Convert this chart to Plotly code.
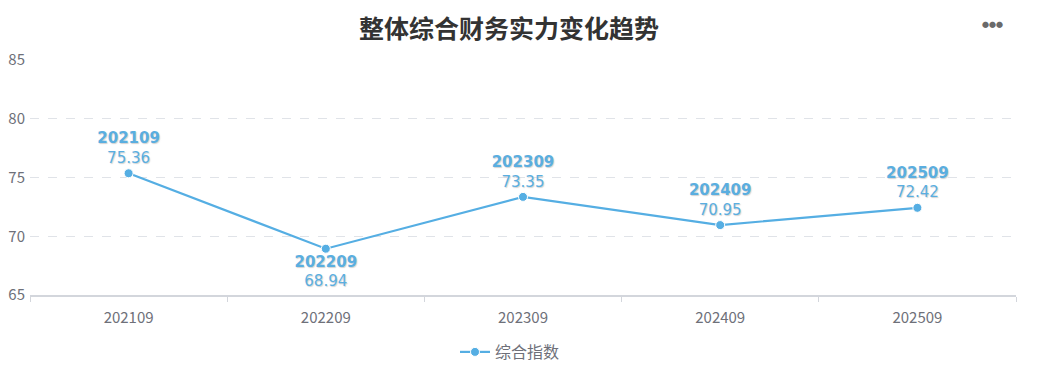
import plotly.graph_objects as go

categories = ["202109", "202209", "202309", "202409", "202509"]
values = [75.36, 68.94, 73.35, 70.95, 72.42]
label_positions = ["top center", "bottom center", "top center", "top center", "top center"]
series_name = "综合指数"
title_text = "整体综合财务实力变化趋势"
y_ticks = [65, 70, 75, 80, 85]

line_color = "#55aee3"
label_color = "#5aaee0"
axis_text = "#6e7079"
font_family = "Noto Sans CJK SC, Noto Sans, sans-serif"

# page body has an 8px margin; the figure is sized to fit the window
W, H = 1035, 362

texts = [f"<b>{c}</b><br>{v:.2f}" for c, v in zip(categories, values)]

fig = go.Figure()
fig.add_trace(go.Scatter(
    x=categories, y=values, name=series_name,
    mode="lines+markers+text",
    line=dict(color=line_color, width=2.2),
    marker=dict(size=9, color=line_color, line=dict(color="white", width=1)),
    text=texts, textposition=label_positions,
    textfont=dict(color=label_color, size=15, family="DejaVu Sans, Verdana, sans-serif",
                  shadow="1px 1px 1px rgba(180,180,180,0.6)"),
    cliponaxis=False,
))

fig.update_layout(
    width=W, height=H,
    paper_bgcolor="white", plot_bgcolor="white",
    margin=dict(l=22, r=27, t=52, b=75, autoexpand=False),
    title=dict(text=f"<b>{title_text}</b>", x=(509 - 8) / W, xanchor="center", y=1 - 21 / H, yanchor="middle",
               yref="container", font=dict(size=25, color="#333333", family=font_family)),
    font=dict(family=font_family, color=axis_text),
    showlegend=True,
    legend=dict(orientation="h", x=(510 - 30) / 986, xanchor="center", yref="container", y=1 - 344 / H,
                yanchor="middle", font=dict(size=16, color=axis_text), itemwidth=30),
    xaxis=dict(type="category", range=[-0.5, 4.5], showgrid=False, zeroline=False,
               showline=True, linecolor="#d3d6dc", linewidth=1.5, automargin=False,
               ticks="outside", tickson="boundaries", ticklen=5, tickcolor="#d3d6dc",
               tickfont=dict(size=15, color=axis_text), ticklabelstandoff=8),
    yaxis=dict(range=[65, 85], tickvals=y_ticks, showgrid=True, gridcolor="#e0e3e8",
               griddash="dash", gridwidth=1, zeroline=False, showline=False, automargin=False,
               tickfont=dict(size=15, color=axis_text), ticklabelstandoff=4),
)

fig.add_annotation(text="●●●", xref="paper", yref="paper", x=(992 - 30) / 986, y=(295 - 24) / 235,
                   showarrow=False, font=dict(size=7, color="#6a6a6a"), xanchor="center", yanchor="middle")

fig.write_html("out.html")
